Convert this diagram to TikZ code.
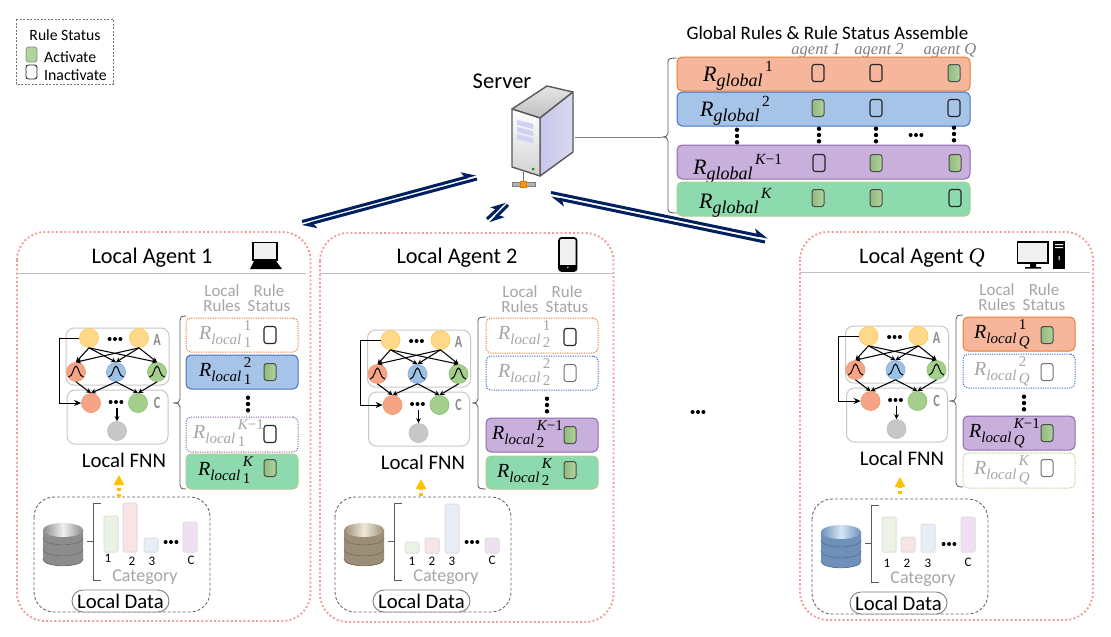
\documentclass[tikz,border=0pt]{standalone}
\usepackage{fontspec}
\setmainfont{Carlito}
\newfontfamily\rf{Liberation Serif}
\usetikzlibrary{arrows.meta}
\definecolor{txg}{HTML}{A6A6A6}
\definecolor{navyA}{HTML}{002060}
\definecolor{panelp}{HTML}{F09C98}
\definecolor{barA}{HTML}{EAF3E4}\definecolor{barB}{HTML}{F8E4E4}\definecolor{barC}{HTML}{E8EEF8}\definecolor{barD}{HTML}{F0DEF3}
\definecolor{dbGd}{HTML}{8C8C8C}\definecolor{dbGl}{HTML}{F0F0F0}
\definecolor{dbTd}{HTML}{9C8E76}\definecolor{dbTl}{HTML}{EFE9DA}
\definecolor{dbBd}{HTML}{6F90B8}\definecolor{dbBl}{HTML}{D4E5F8}
\tikzset{
  rb/.style={rectangle,rounded corners=5pt,minimum width=112pt,inner sep=0pt,line width=1pt},
  rOr/.style={fill=orF,draw=orD},rBl/.style={fill=blF,draw=blD},rPu/.style={fill=puF,draw=puD},rGr/.style={fill=grF,draw=grD},
  iOr/.style={fill=white,draw=orD,dash pattern=on 1.2pt off 1.2pt},iBl/.style={fill=white,draw=blD,dash pattern=on 1.2pt off 1.2pt},
  iPu/.style={fill=white,draw=puD,dash pattern=on 1.2pt off 1.2pt},iGr/.style={fill=white,draw=grD,dash pattern=on 1.2pt off 1.2pt},
  stb/.style={rectangle,rounded corners=2.5pt,minimum width=12pt,minimum height=17pt,inner sep=0pt},
  stOn/.style={stb,draw=black!70,line width=1pt,left color=stL,right color=stR},
  stOff/.style={stb,draw=black!85,line width=1.1pt},
  stGy/.style={stb,draw=black!55,line width=1pt},
  cir/.style={circle,minimum size=19pt,inner sep=0pt,line width=.7pt},
  cY/.style={cir,fill=ciY,draw=ciYd},cO/.style={cir,fill=ciO,draw=ciOd},cB/.style={cir,fill=ciB,draw=ciBd},cG/.style={cir,fill=ciG,draw=ciGd},cK/.style={cir,fill=black!22,draw=black!25},
  netbox/.style={draw=black!22,line width=1pt,rounded corners=8pt},
  lnk/.style={-{Stealth[length=5pt,width=5pt]},line width=1.05pt,black},
  bar/.style={rounded corners=1.5pt,draw=black!13,line width=1pt},
  gtxt/.style={text=txg,font=\fontsize{17}{17}\selectfont,inner sep=0pt},
  ttl/.style={font=\fontsize{22.3}{22.3}\selectfont,inner sep=0pt},
  lbl/.style={font=\fontsize{13}{13}\selectfont,inner sep=0pt},
  rt/.style={anchor=base west,inner sep=0pt},
  brc/.style={draw=black!65,line width=.8pt},
  panel/.style={draw=panelp,line width=1.9pt,dash pattern=on 1.9pt off 2.3pt,rounded corners=28pt},
  hline/.style={draw=black!25,line width=1pt},
  harpU/.style={line width=3pt,navyA,-{Stealth[harpoon,length=12pt,width=12pt,inset=3pt]}},
  yar/.style={line width=3.2pt,color=yelA,dash pattern=on 3pt off 3pt,-{Triangle[length=10pt,width=10pt]}},
  srv/.style={draw=black!65,line width=1.4pt,line join=round},
  nl/.style={inner sep=0pt,text=black!45,font=\bfseries\fontsize{17}{17}\selectfont},
  agl/.style={inner sep=0pt,text=black!50,font=\rf\itshape\fontsize{16.5}{16.5}\selectfont},
}
\definecolor{orF}{HTML}{F5B69C}\definecolor{orD}{HTML}{ED7D31}
\definecolor{blF}{HTML}{A6C3E8}\definecolor{blD}{HTML}{4472C4}
\definecolor{puF}{HTML}{C9AFDC}\definecolor{puD}{HTML}{8E6BAE}
\definecolor{grF}{HTML}{8DDAAE}\definecolor{grD}{HTML}{A9D18E}
\definecolor{stL}{HTML}{93B97F}\definecolor{stR}{HTML}{B0D49B}
\definecolor{ciY}{HTML}{FFD98A}\definecolor{ciYd}{HTML}{FFCB55}
\definecolor{ciO}{HTML}{F5A585}\definecolor{ciOd}{HTML}{F09A70}
\definecolor{ciB}{HTML}{9DC0E6}\definecolor{ciBd}{HTML}{8DB0DC}
\definecolor{ciG}{HTML}{A3CE8C}\definecolor{ciGd}{HTML}{8FC277}
\definecolor{yelA}{HTML}{FFC000}
% rule labels
\newcommand\Rl[2]{{\rf\itshape\fontsize{20}{20}\selectfont R\raisebox{-4.5pt}{\fontsize{15}{15}\selectfont local}\rlap{\raisebox{-8pt}{\fontsize{15}{15}\selectfont\,#1}}\raisebox{9pt}{\fontsize{15}{15}\selectfont\,#2}}}
\newcommand\Rg[1]{{\rf\itshape\fontsize{22}{22}\selectfont R\raisebox{-5pt}{\fontsize{18}{18}\selectfont global}\raisebox{10pt}{\fontsize{15.5}{15.5}\selectfont\,#1}}}
\newcommand\up[1]{{\upshape #1}}
% small dot groups
\newcommand\tdH[2]{\fill (#1-5.4,#2) circle (2) (#1,#2) circle (2) (#1+5.4,#2) circle (2);}
\newcommand\tdV[2]{\fill (#1,#2-6.3) circle (2.2) (#1,#2) circle (2.2) (#1,#2+6.3) circle (2.2);}
% curly bracket
\newcommand\rbrc[6]{% xend, xm, xtip, ytop, ybot, ymid
  \draw[brc] (#1,#4) .. controls (#2+1.5,#4) and (#2,#4+1) .. (#2,#4+4) -- (#2,#6-4) .. controls (#2,#6-1) and (#2-2,#6) .. (#3,#6) .. controls (#2-2,#6) and (#2,#6+1) .. (#2,#6+4) -- (#2,#5-4) .. controls (#2,#5-1) and (#2+1.5,#5) .. (#1,#5);}
% one rule row
\newcommand\rrow[8]{% id, ytop, ybot, style, textx, text, staty, statestyle
  \node[rb,#4,minimum height={(#3)-(#2)}] (#1) at (242,{((#2)+(#3))/2}) {};
  \node[rt] (#1t) at (#5,{(#2)+21.5}) {#6};
  \node[#8] (#1s) at (270,#7) {};}
\newcommand\bell[2]{\draw[black,line width=1pt] (#1-7.5,#2+5) .. controls (#1-3,#2+5) and (#1-2.5,#2-6) .. (#1,#2-6) .. controls (#1+2.5,#2-6) and (#1+3,#2+5) .. (#1+7.5,#2+5);}
% FNN block
\newcommand\fnn[3]{\begin{scope}[shift={(#2,#3)}]
  \draw[netbox,fill=white] (66,328) rectangle (169,385);
  \draw[netbox,fill=white] (67,390) rectangle (168,444);
  \node[cY] (#1i1) at (89,338) {};
  \node[cY] (#1i2) at (139,338) {};
  \node[cO] (#1m1) at (76,372) {};
  \node[cB] (#1m2) at (116,372) {};
  \node[cG] (#1m3) at (157,372) {};
  \node[cO] (#1c1) at (91,403) {};
  \node[cG] (#1c2) at (138,403) {};
  \node[cK] (#1c3) at (117,431) {};
  \coordinate (#1dt) at (117,408);
  \tdH{115}{339}\tdH{116}{402}
  \node[nl] (#1A) at (157,340) {\scalebox{.72}[1]{A}};
  \node[nl] (#1C) at (157,403) {\scalebox{.72}[1]{C}};
  \bell{76}{372}\bell{116}{372}\bell{157}{372}
  \foreach \s in {i1,i2}{\foreach \e in {m1,m2,m3}{\draw[lnk] (#1\s.south) -- (#1\e.north);}}
  \draw[lnk] (#1m1.south) -- (#1c1.north);
  \draw[lnk] (#1m2.south) -- (#1c1.north);
  \draw[lnk] (#1m2.south) -- (#1c2.north);
  \draw[lnk] (#1m3.south) -- (#1c2.north);
  \draw[lnk] (#1dt) -- (#1c3.north);
  \draw[line width=1pt,-{Stealth[length=7pt,width=6pt]}] (#1i1.west) -- (59,338) -- (59,403) -- (#1c1.west);
\end{scope}}
% database icon
\newcommand\dblayer[4]{\shade[left color=#3,middle color=#4,right color=#3] (43,#1) -- (43,#2) .. controls (43,#2+9) and (83,#2+9) .. (83,#2) -- (83,#1) .. controls (83,#1+9) and (43,#1+9) .. cycle;
  \draw[#3!80!black,line width=.8pt] (43,#2) .. controls (43,#2+9) and (83,#2+9) .. (83,#2);}
\newcommand\dbicon[2]{\dblayer{549}{559}{#1}{#2}\dblayer{538}{549}{#1}{#2}\dblayer{529}{538}{#1}{#2}
  \shade[left color=#1,right color=#1,middle color=#2] (63,530) ellipse (20 and 7);}
% data panel: name, dx, dy, dark, light
\newcommand\datap[5]{\begin{scope}[shift={(#2,#3)}]
  \draw[draw=black!60,line width=.9pt,dash pattern=on 3pt off 2pt,rounded corners=20pt] (34,497) rectangle (210,612);
  \dbicon{#4}{#5}
  \draw[brc] (101,503) -- (93,503) -- (93,580) -- (101,580);
  \draw[brc] (93,541) -- (87,541);
  \node[draw=black!50,line width=.9pt,rounded corners=11pt,minimum width=97pt,minimum height=22pt,inner sep=0pt,fill=white,font=\fontsize{20.7}{20.7}\selectfont] (#1pill) at (120.5,601) {Local Data};
  \node[gtxt,font=\fontsize{18}{18}\selectfont] (#1cat) at (145,577) {Category};
  \tdH{171}{542}
\end{scope}}
\begin{document}
\begin{tikzpicture}[x=1pt,y=-1pt]
\useasboundingbox (0,0) rectangle (1111,637);
\fill[white] (0,0) rectangle (1111,637);

% legend
\draw[draw=black!55,line width=.7pt,dash pattern=on 2pt off 1.5pt] (16,19) rectangle (113,84);
\node[inner sep=0pt,font=\fontsize{15.7}{15.7}\selectfont] (legt) at (65,35) {Rule Status};
\node[stb,minimum width=11pt,minimum height=15pt,draw=black!45,line width=.8pt,fill=stR] (leg1) at (31.5,54.5) {};
\node[stb,minimum width=11pt,minimum height=14pt,draw=black!85,line width=.9pt] (leg2) at (31.5,72) {};
\node[inner sep=0pt,anchor=west,font=\fontsize{15.8}{15.8}\selectfont] (leg1t) at (44,57) {Activate};
\node[inner sep=0pt,anchor=west,font=\fontsize{15.8}{15.8}\selectfont] (leg2t) at (44,75) {Inactivate};

% server icon
\node[inner sep=0pt,font=\fontsize{22.5}{22.5}\selectfont] (srvt) at (502,81) {Server};
\coordinate (srvr) at (575,137);
\draw[black!55,line width=1pt] (523.5,172) -- (523.5,184);
\draw[fill=black!30,draw=black!50,line width=.7pt] (512,182.5) rectangle (535,186);
\draw[fill=orange!80!yellow,draw=orange!90!black,line width=.6pt] (520.5,181) rectangle (526.5,187);
\shade[srv,top color=black!10,bottom color=black!25] (512,109) -- (547,86) -- (573,92) -- (540,118) -- cycle;
\shade[srv,left color=black!32!blue!22!white,right color=black!45!blue!15!white] (540,118) -- (573,92) -- (573,152) -- (540,176) -- cycle;
\shade[srv,top color=white,bottom color=black!18] (512,109) -- (540,118) -- (540,176) -- (512,167) -- cycle;
\fill[black!30!blue!18!white] (517,120) -- (533,124) -- (533,129) -- (517,125) -- cycle
  (517,127) -- (533,131) -- (533,136) -- (517,132) -- cycle
  (517,134) -- (533,138) -- (533,143) -- (517,139) -- cycle;
\fill[green!60!black] (533,169) circle (1.5);

% global rules
\node[inner sep=0pt,font=\fontsize{19}{19}\selectfont] (gt) at (827.5,33) {Global Rules \& Rule Status Assemble};
\node[agl] (ag1) at (816,51) {agent 1};
\node[agl] (ag2) at (879,51) {agent 2};
\node[agl] (agq) at (950,51) {agent Q};
\coordinate (gtip) at (662,137);
\draw[black!50,line width=.8pt] (srvr) -- (gtip);
\rbrc{677}{668}{662}{58}{213}{137}
\foreach \n/\ya/\yb/\s/\tx/\by/\t/\cy in {
  g1/57/91/rOr/703/81/\Rg{\up{1}}/73,
  g2/92/126/rBl/700/116/\Rg{\up{2}}/108,
  g3/145/179/rPu/693/174/\Rg{K\up{−1}}/163,
  g4/182/216/rGr/699/208/\Rg{K}/198}{
  \node[rb,\s,minimum width=293pt,minimum height={\yb-\ya}] (\n) at (823.5,{(\ya+\yb)/2}) {};
  \node[rt] (\n t) at (\tx,\by) {\t};
}
\node[stOff] (s11) at (818,73) {};\node[stOff] (s12) at (876,73) {};\node[stOn] (s13) at (954,73) {};
\node[stOn] (s21) at (818,108) {};\node[stOff] (s22) at (876,108) {};\node[stOff] (s23) at (954,108) {};
\node[stOff] (s31) at (819,163) {};\node[stOn] (s32) at (876,163) {};\node[stOn] (s33) at (955,163) {};
\node[stOn] (s41) at (818,198) {};\node[stOn] (s42) at (876,198) {};\node[stOff] (s43) at (955,198) {};
\tdV{737}{136}\tdV{819}{135}\tdV{876}{135}\tdV{954}{134}\tdH{916}{135}

% arrows between server and agents
\coordinate (a1s) at (302,221.5);\coordinate (a1e) at (476,174.5);
\coordinate (a2s) at (477,179);\coordinate (a2e) at (302,226);
\coordinate (b1s) at (487,219);\coordinate (b1e) at (505,202);
\coordinate (b2s) at (508,205);\coordinate (b2e) at (490,223);
\coordinate (q1s) at (551,192.5);\coordinate (q1e) at (768,237.5);
\coordinate (q2s) at (765,242);\coordinate (q2e) at (551,197.5);
\draw[harpU] (a1s) -- (a1e);
\draw[harpU] (a2s) -- (a2e);
\draw[harpU] (b1s) -- (b1e);
\draw[harpU] (b2s) -- (b2e);
\draw[harpU] (q1s) -- (q1e);
\draw[harpU] (q2s) -- (q2e);

% === panels ===
\draw[panel] (17,232) rectangle (310.5,621);
\draw[panel] (320,233) rectangle (613.5,622);
\draw[panel] (800,232) rectangle (1093,620);
\draw[hline] (17,273) -- (306,273);
\draw[hline] (320,273) -- (614,273);
\draw[hline] (800,272) -- (1090,272);
\node[ttl] (at) at (152,258) {Local Agent 1};
\node[ttl] (bt) at (457,258) {Local Agent 2};
\node[ttl] (qt) at (922,258) {Local Agent {\rf\itshape Q}};

% device icons
\draw[black,line width=1.6pt,fill=black!6] (253,242.5) rectangle (277,260);
\fill[black] (254,261) -- (276,261) -- (282,269) -- (250,269) -- cycle;
\draw[black,line width=1.6pt,fill=black!6,rounded corners=2.5pt] (559,238) rectangle (576.5,271);
\fill[black] (559,265) rectangle (576.5,270);
\fill[white] (567.8,267.5) circle (.8);
\draw[black,line width=1.6pt,fill=black!6] (1017.5,242) rectangle (1048,263);
\fill[black] (1030,263) rectangle (1036,267) (1025,267) rectangle (1041,268.5);
\fill[black] (1053,241) rectangle (1065,268.5);
\fill[white] (1055,244) rectangle (1063,245) (1055,247) rectangle (1063,248) (1058.5,256) rectangle (1059.5,260);

% FNN blocks
\fnn{a}{0}{0}
\fnn{b}{301.5}{2}
\fnn{q}{779.5}{-2}
\node[ttl,font=\fontsize{20.8}{20.8}\selectfont] (afnn) at (124,460.5) {Local FNN};
\node[ttl,font=\fontsize{20.8}{20.8}\selectfont] (bfnn) at (423,462) {Local FNN};
\node[ttl,font=\fontsize{20.8}{20.8}\selectfont] (qfnn) at (902,458) {Local FNN};

% Rule blocks agent 1
\node[gtxt] (ahl) at (222,291) {Local};\node[gtxt] (ahr) at (222,306) {Rules};
\node[gtxt] (ahs) at (269,291) {Rule};\node[gtxt] (aht) at (269,306) {Status};
\rbrc{186}{180}{173}{316}{489}{403}
\rrow{ar1}{318}{352}{iOr}{199}{\color{txg}\Rl{\up{1}}{\up{1}}}{335}{stOff}
\rrow{ar2}{355}{389}{rBl}{199}{\Rl{\up{1}}{\up{2}}}{372}{stOn}
\rrow{ar3}{417}{452}{iPu}{193}{\color{txg}\Rl{\up{1}}{K\up{−1}}}{434}{stOff}
\rrow{ar4}{454}{489}{rGr}{198}{\Rl{\up{1}}{K}}{468}{stOn}
\tdV{248}{404}

% Rule blocks agent 2
\begin{scope}[shift={(300,0)}]
\node[gtxt] (bhl) at (220,292) {Local};\node[gtxt] (bhr) at (220,307) {Rules};
\node[gtxt] (bhs) at (267,292) {Rule};\node[gtxt] (bht) at (267,307) {Status};
\rbrc{186}{178}{172}{317}{489}{403}
\rrow{br1}{318}{353}{iOr}{198}{\color{txg}\Rl{\up{2}}{\up{1}}}{337}{stOff}
\rrow{br2}{356}{390}{iBl}{198}{\color{txg}\Rl{\up{2}}{\up{2}}}{373}{stGy}
\rrow{br3}{418}{452}{rPu}{192}{\Rl{\up{2}}{K\up{−1}}}{435}{stOn}
\rrow{br4}{456}{489}{rGr}{197}{\Rl{\up{2}}{K}}{470}{stOn}
\tdV{247}{405}
\end{scope}

% Rule blocks agent Q
\begin{scope}[shift={(777,0)}]
\node[gtxt] (qhl) at (220,290) {Local};\node[gtxt] (qhr) at (220,305) {Rules};
\node[gtxt] (qhs) at (267,290) {Rule};\node[gtxt] (qht) at (267,305) {Status};
\rbrc{186}{179}{172}{315}{487}{401}
\rrow{qr1}{317}{351}{rOr}{197}{\Rl{Q}{\up{1}}}{335}{stOn}
\rrow{qr2}{354}{388}{iBl}{197}{\color{txg}\Rl{Q}{\up{2}}}{372}{stGy}
\rrow{qr3}{416}{450}{rPu}{192}{\Rl{Q}{K\up{−1}}}{433}{stOn}
\rrow{qr4}{453}{488}{iGr}{197}{\color{txg}\Rl{Q}{K}}{468}{stGy}
\tdV{247}{403}
\end{scope}

% data panels
\datap{ad}{0}{0}{dbGd}{dbGl}
\datap{bd}{301}{0}{dbTd}{dbTl}
\datap{qd}{778}{2}{dbBd}{dbBl}

% bars agent 1
\foreach \x/\t/\c in {104/516/barA,123/503/barB,144/538/barC,183/522/barD}{\draw[bar,fill=\c] (\x,\t) rectangle (\x+14,552);}
\node[lbl] (al1) at (108,558) {1};\node[lbl] (al2) at (132,561) {2};\node[lbl] (al3) at (152,561) {3};\node[lbl] (alc) at (191,560) {C};
% bars agent 2
\foreach \x/\t/\c in {405/542/barA,425/538/barB,445/504/barC,485/538/barD}{\draw[bar,fill=\c] (\x,\t) rectangle (\x+14,553);}
\node[lbl] (bl1) at (412,561) {1};\node[lbl] (bl2) at (432,561) {2};\node[lbl] (bl3) at (452,561) {3};\node[lbl] (blc) at (492,560) {C};
% bars agent Q
\foreach \x/\t/\c in {882/517/barA,901/537/barB,921/524/barC,961/517/barD}{\draw[bar,fill=\c] (\x,\t) rectangle (\x+14,552);}
\node[lbl] (ql1) at (887,563) {1};\node[lbl] (ql2) at (907,563) {2};\node[lbl] (ql3) at (928,563) {3};\node[lbl] (qlc) at (968,562) {C};

% data to FNN arrows
\coordinate (af) at (119,475);\coordinate (ab) at (119,497);
\coordinate (bf) at (421,479);\coordinate (bb) at (421,496);
\coordinate (qf) at (900,477);\coordinate (qb) at (900,494);
\draw[yar] (ab) -- (af);
\draw[yar] (bb) -- (bf);
\draw[yar] (qb) -- (qf);

% ellipsis between agents
\tdH{698}{412}
\end{tikzpicture}
\end{document}
